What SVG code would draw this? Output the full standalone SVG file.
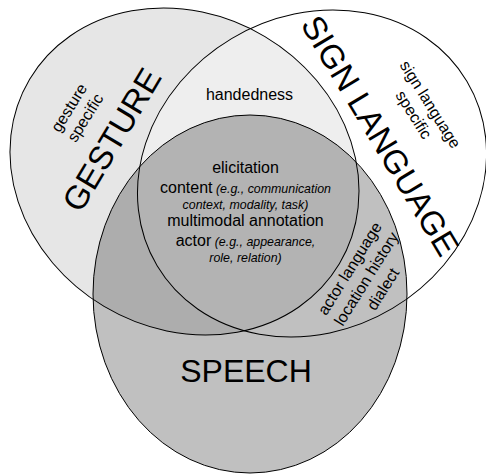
<svg xmlns="http://www.w3.org/2000/svg" xmlns:xlink="http://www.w3.org/1999/xlink" width="486" height="475" viewBox="0 0 486 475">
<style>
text{font-family:"Liberation Sans",Arial,Helvetica,sans-serif;fill:#000}
.big{font-size:33px;text-anchor:middle}
.lbl{font-size:16px;text-anchor:middle}
.it{font-style:italic;font-size:12.4px}
.outline{fill:none;stroke:#000;stroke-width:1}
</style>
<defs>
<ellipse id="eG" cx="184.5" cy="171.5" rx="180.3" ry="157.1" transform="rotate(30.8 184.5 171.5)"/>
<ellipse id="eS" cx="312" cy="173.5" rx="180.3" ry="157.1" transform="rotate(-30.8 312 173.5)"/>
<ellipse id="eP" cx="250" cy="294" rx="157" ry="179"/>
<clipPath id="cG"><use href="#eG"/></clipPath>
<clipPath id="cS"><use href="#eS"/></clipPath>
</defs>
<rect width="486" height="475" fill="#fff"/>
<g id="gesture">
<use href="#eG" fill="#e6e6e6"/>
</g>
<g id="sign-language">
<use href="#eS" fill="#fff"/>
<g clip-path="url(#cG)"><use href="#eS" fill="#eeeeee"/></g>
</g>
<g id="speech">
<use href="#eP" fill="#c0c0c0"/>
<g clip-path="url(#cG)"><use href="#eP" fill="#adadad"/>
<g clip-path="url(#cS)"><use href="#eP" fill="#b3b3b3"/></g></g>
</g>
<g id="outlines">
<use href="#eG" class="outline"/>
<use href="#eS" class="outline"/>
<use href="#eP" class="outline"/>
</g>
<g id="gesture-labels">
<text class="big" transform="translate(111.5 139.5) rotate(-59)" y="11.8">GESTURE</text>
<g transform="translate(77.5 113) rotate(-58)">
<text class="lbl" y="-4.5">gesture</text>
<text class="lbl" y="14.5">specific</text>
</g>
</g>
<g id="sign-language-labels">
<text class="big" transform="translate(380.5 135.5) rotate(59)" y="11.8">SIGN LANGUAGE</text>
<g transform="translate(421.5 110) rotate(58)">
<text class="lbl" y="-5">sign language</text>
<text class="lbl" y="14.5">specific</text>
</g>
</g>
<g id="speech-labels">
<text class="big" x="246" y="382" style="font-size:32px">SPEECH</text>
</g>
<g id="overlap-labels">
<text class="lbl" x="249.5" y="100">handedness</text>
<text class="lbl" x="245.5" y="173">elicitation</text>
<text class="lbl" x="245.5" y="193">content<tspan class="it"> (e.g., communication</tspan></text>
<text class="lbl it" x="245.5" y="209">context, modality, task)</text>
<text class="lbl" x="245.5" y="226">multimodal annotation</text>
<text class="lbl" x="245.5" y="246">actor<tspan class="it"> (e.g., appearance,</tspan></text>
<text class="lbl it" x="245.5" y="262">role, relation)</text>
<g transform="translate(366.7 279) rotate(-58)">
<text class="lbl" y="-14.5">actor language</text>
<text class="lbl" y="5">location history</text>
<text class="lbl" y="24.5">dialect</text>
</g>
</g>
<g id="connectors"/>
</svg>
